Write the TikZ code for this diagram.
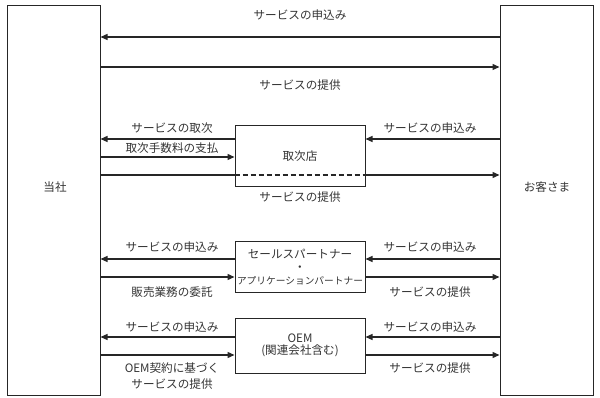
\documentclass[tikz,border=0pt]{standalone}
\usepackage{fontspec}
\setmainfont{Noto Sans CJK JP}
\usetikzlibrary{arrows.meta}
\begin{document}
\begin{tikzpicture}[x=1pt,y=-1pt,
  box/.style={draw=black!85, line width=1pt, inner sep=0pt, font=\fontsize{11.6}{13}\selectfont, text=black!80},
  arr/.style={draw=black!85, line width=1.3pt, -{Triangle[length=7pt,width=6pt]}},
  ln/.style={draw=black!85, line width=1.3pt},
  lbl/.style={inner sep=0pt, font=\fontsize{11.6}{13}\selectfont, text=black!80, align=center}]
\useasboundingbox (0,0) rectangle (600,398);
% side boxes
\node[box, minimum width=93pt, minimum height=389pt] (L) at (53.5,200.5) {};
\node[lbl] (Lt) at (55,187) {当社};
\node[box, minimum width=93pt, minimum height=389pt] (R) at (546.5,200.5) {};
\node[lbl] (Rt) at (547,187) {お客さま};
% middle boxes
\node[box, minimum width=130pt, minimum height=61pt] (A) at (300,156.5) {取次店};
\node[box, minimum width=130pt, minimum height=51pt, align=center] (S) at (300,267.5)
  {セールスパートナー\\[0pt]・\\[0pt]{\fontsize{9.7}{12}\selectfont アプリケーションパートナー}};
\node[box, minimum width=130pt, minimum height=55pt, align=center] (O) at (300,345.5)
  {OEM\\[-1pt](関連会社含む)};
% direct arrows
\draw[arr] (R.west |- 0,37) -- (L.east |- 0,37);
\node[lbl] (t1) at (300,15) {サービスの申込み};
\draw[arr] (L.east |- 0,67) -- (R.west |- 0,67);
\node[lbl] (t2) at (300,85) {サービスの提供};
% via A
\draw[arr] (A.west |- 0,139) -- (L.east |- 0,139);
\node[lbl] (t3) at (172,128) {サービスの取次};
\draw[arr] (L.east |- 0,157) -- (A.west |- 0,157);
\node[lbl] (t4) at (172,148) {取次手数料の支払};
\draw[arr] (R.west |- 0,139) -- (A.east |- 0,139);
\node[lbl] (t5) at (430,128) {サービスの申込み};
\draw[ln] (L.east |- 0,175) -- (A.west |- 0,175);
\draw[ln, dash pattern=on 5pt off 3pt] (A.west |- 0,175) -- (A.east |- 0,175);
\draw[arr] (A.east |- 0,175) -- (R.west |- 0,175);
\node[lbl] (t6) at (300,197) {サービスの提供};
% via S
\draw[arr] (S.west |- 0,259) -- (L.east |- 0,259);
\draw[arr] (R.west |- 0,259) -- (S.east |- 0,259);
\draw[arr] (L.east |- 0,277) -- (S.west |- 0,277);
\draw[arr] (S.east |- 0,277) -- (R.west |- 0,277);
\node[lbl] (t7) at (172,247) {サービスの申込み};
\node[lbl] (t8) at (430,247) {サービスの申込み};
\node[lbl] (t9) at (172,292) {販売業務の委託};
\node[lbl] (t10) at (430,292) {サービスの提供};
% via O
\draw[arr] (O.west |- 0,337) -- (L.east |- 0,337);
\draw[arr] (R.west |- 0,337) -- (O.east |- 0,337);
\draw[arr] (L.east |- 0,355) -- (O.west |- 0,355);
\draw[arr] (O.east |- 0,355) -- (R.west |- 0,355);
\node[lbl] (t11) at (172,327) {サービスの申込み};
\node[lbl] (t12) at (430,327) {サービスの申込み};
\node[lbl] (t13) at (172,376.5) {OEM契約に基づく\\[3pt]サービスの提供};
\node[lbl] (t14) at (430,368) {サービスの提供};
\end{tikzpicture}
\end{document}
